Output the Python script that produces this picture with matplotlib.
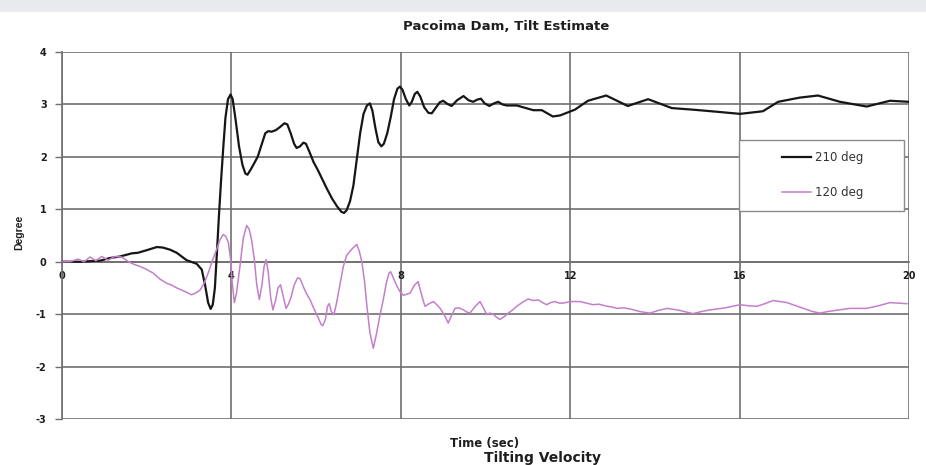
import matplotlib
matplotlib.use("Agg")
import matplotlib.pyplot as plt
from matplotlib.patches import Rectangle

plt.rcParams["axes.unicode_minus"] = False

# Tilt estimate, 210 deg component
t_210 = [0.00, 0.43, 0.90, 1.13, 1.37, 1.65, 1.79, 1.96, 2.24, 2.38, 2.55, 2.71,
         2.94, 3.18, 3.30, 3.38, 3.45, 3.51, 3.56, 3.61, 3.66, 3.71, 3.76, 3.81,
         3.86, 3.92, 3.98, 4.03, 4.10, 4.18, 4.26, 4.33, 4.38, 4.45, 4.54, 4.62,
         4.70, 4.80, 4.87, 4.95, 5.05, 5.15, 5.25, 5.32, 5.40, 5.48, 5.54, 5.62,
         5.70, 5.76, 5.84, 5.94, 6.04, 6.13, 6.25, 6.38, 6.50, 6.60, 6.66, 6.72,
         6.80, 6.88, 6.96, 7.04, 7.12, 7.20, 7.27, 7.33, 7.40, 7.47, 7.54, 7.60,
         7.68, 7.76, 7.84, 7.92, 7.98, 8.04, 8.12, 8.20, 8.26, 8.33, 8.39, 8.46,
         8.55, 8.65, 8.73, 8.82, 8.92, 9.00, 9.10, 9.20, 9.33, 9.48, 9.60, 9.71,
         9.80, 9.89, 9.98, 10.09, 10.20, 10.30, 10.40, 10.50, 10.74, 11.13, 11.33,
         11.59, 11.76, 12.11, 12.42, 12.85, 13.36, 13.84, 14.40, 14.90, 15.47,
         16.01, 16.55, 16.91, 17.42, 17.85, 18.37, 19.00, 19.55, 20.00]
deg_210 = [0.00, 0.00, 0.02, 0.07, 0.10, 0.16, 0.17, 0.21, 0.28, 0.27, 0.23, 0.17,
           0.03, -0.04, -0.15, -0.45, -0.78, -0.90, -0.82, -0.50, 0.20, 0.94, 1.60, 2.20,
           2.75, 3.10, 3.19, 3.10, 2.70, 2.20, 1.85, 1.68, 1.66, 1.75, 1.88, 2.00,
           2.20, 2.45, 2.49, 2.48, 2.51, 2.57, 2.64, 2.62, 2.45, 2.25, 2.17, 2.20,
           2.27, 2.25, 2.10, 1.90, 1.75, 1.60, 1.40, 1.20, 1.05, 0.95, 0.93, 0.98,
           1.15, 1.45, 1.95, 2.45, 2.82, 2.98, 3.02, 2.88, 2.55, 2.28, 2.20, 2.25,
           2.45, 2.75, 3.10, 3.30, 3.34, 3.28, 3.10, 2.98, 3.05, 3.20, 3.24, 3.15,
           2.95, 2.84, 2.83, 2.93, 3.04, 3.07, 3.01, 2.97, 3.08, 3.16, 3.08, 3.05,
           3.09, 3.11, 3.02, 2.97, 3.02, 3.05, 3.00, 2.98, 2.98, 2.89, 2.89,
           2.77, 2.79, 2.90, 3.07, 3.17, 2.97, 3.10, 2.93, 2.90, 2.86,
           2.82, 2.87, 3.05, 3.13, 3.17, 3.05, 2.96, 3.07, 3.05]

# Tilt estimate, 120 deg component
t_120 = [0.00, 0.19, 0.38, 0.52, 0.66, 0.80, 0.94, 1.09, 1.25, 1.41, 1.57, 1.70,
         1.84, 1.98, 2.16, 2.31, 2.47, 2.60, 2.71, 2.88, 3.06, 3.15, 3.26, 3.35,
         3.45, 3.55, 3.65, 3.73, 3.81, 3.87, 3.93, 3.98, 4.02, 4.07, 4.12, 4.20,
         4.28, 4.36, 4.42, 4.48, 4.54, 4.60, 4.66, 4.72, 4.77, 4.82, 4.87, 4.93,
         4.98, 5.04, 5.10, 5.16, 5.22, 5.29, 5.34, 5.40, 5.48, 5.56, 5.62, 5.70,
         5.78, 5.86, 5.94, 6.04, 6.12, 6.16, 6.22, 6.27, 6.31, 6.36, 6.42, 6.48,
         6.56, 6.64, 6.72, 6.80, 6.88, 6.96, 7.02, 7.08, 7.14, 7.20, 7.27, 7.35,
         7.42, 7.50, 7.58, 7.66, 7.72, 7.76, 7.82, 7.90, 7.98, 8.06, 8.14, 8.22,
         8.32, 8.41, 8.48, 8.57, 8.67, 8.77, 8.85, 8.93, 9.03, 9.12, 9.20, 9.28,
         9.38, 9.48, 9.56, 9.63, 9.75, 9.87, 9.95, 10.03, 10.10, 10.18, 10.26,
         10.34, 10.44, 10.54, 10.64, 10.74, 10.88, 11.01, 11.12, 11.25, 11.35,
         11.44, 11.54, 11.64, 11.74, 11.84, 11.94, 12.04, 12.23, 12.38, 12.54,
         12.68, 12.82, 12.96, 13.11, 13.26, 13.41, 13.64, 13.88, 14.08, 14.29,
         14.45, 14.59, 14.75, 14.90, 15.10, 15.30, 15.48, 15.66, 15.84, 16.01,
         16.21, 16.41, 16.60, 16.79, 16.95, 17.12, 17.33, 17.54, 17.72, 17.90,
         18.08, 18.25, 18.43, 18.61, 18.80, 19.00, 19.28, 19.55, 19.75, 19.95]
deg_120 = [0.00, 0.00, 0.05, 0.00, 0.09, 0.02, 0.10, 0.03, 0.10, 0.09, 0.00, -0.05,
           -0.09, -0.14, -0.22, -0.33, -0.41, -0.45, -0.50, -0.56, -0.63, -0.60, -0.54, -0.42,
           -0.22, 0.02, 0.23, 0.42, 0.52, 0.48, 0.36, 0.05, -0.40, -0.78, -0.60, -0.10,
           0.45, 0.69, 0.62, 0.40, 0.05, -0.45, -0.72, -0.45, -0.10, 0.04, -0.20, -0.70,
           -0.92, -0.75, -0.50, -0.44, -0.65, -0.89, -0.82, -0.70, -0.45, -0.31, -0.32, -0.48,
           -0.62, -0.73, -0.88, -1.05, -1.20, -1.22, -1.10, -0.85, -0.80, -0.95, -1.01, -0.80,
           -0.45, -0.10, 0.12, 0.20, 0.27, 0.33, 0.20, 0.00, -0.35, -0.85, -1.35, -1.65,
           -1.40, -1.05, -0.75, -0.40, -0.22, -0.19, -0.30, -0.45, -0.57, -0.64, -0.62, -0.60,
           -0.45, -0.38, -0.60, -0.85, -0.80, -0.76, -0.82, -0.89, -1.02, -1.17, -1.02, -0.89,
           -0.88, -0.92, -0.96, -0.98, -0.86, -0.76, -0.88, -1.01, -0.98, -1.00, -1.06,
           -1.10, -1.05, -0.98, -0.92, -0.85, -0.77, -0.71, -0.74, -0.73, -0.78,
           -0.82, -0.78, -0.76, -0.79, -0.79, -0.77, -0.76, -0.76, -0.79, -0.82,
           -0.81, -0.84, -0.86, -0.89, -0.88, -0.90, -0.95, -0.98, -0.93, -0.89,
           -0.91, -0.93, -0.96, -0.99, -0.95, -0.92, -0.90, -0.88, -0.85, -0.82,
           -0.84, -0.85, -0.80, -0.74, -0.76, -0.78, -0.84, -0.90, -0.95, -0.98,
           -0.95, -0.93, -0.91, -0.89, -0.89, -0.89, -0.84, -0.78, -0.79, -0.80]

series_labels = ["210 deg", "120 deg"]
x_ticks = [0, 4, 8, 12, 16, 20]
y_ticks = [-3, -2, -1, 0, 1, 2, 3, 4]

GRID = "#707070"
TXT = "#1e1e1e"
BOLD = ["DejaVu Sans"]

fig = plt.figure(figsize=(9.26, 4.65), dpi=100)
fig.patch.set_facecolor("white")

# light banner strip along the top edge
fig.add_artist(Rectangle((0, 1 - 12 / 465), 1, 12 / 465, transform=fig.transFigure,
                         facecolor="#e8eaee", edgecolor="none", zorder=0))

ax = fig.add_axes([62 / 926, 1 - 419 / 465, 847 / 926, 367 / 465])
ax.set_xlim(0, 20)
ax.set_ylim(-3, 4)

ln1, = ax.plot(t_210, deg_210, color="#161616", lw=1.6, zorder=3,
               solid_joinstyle="round")
ln2, = ax.plot(t_120, deg_120, color="#c47fcb", lw=1.1, zorder=3,
               solid_joinstyle="round")

ax.set_xticks(x_ticks)
ax.set_yticks(y_ticks)
ax.grid(True, color=GRID, lw=1.2)
ax.set_axisbelow(True)

for side in ("top", "right"):
    ax.spines[side].set_visible(False)
ax.spines["left"].set_color(GRID)
ax.spines["left"].set_linewidth(1.2)
ax.spines["bottom"].set_position(("data", 0))
ax.spines["bottom"].set_color(GRID)
ax.spines["bottom"].set_linewidth(1.2)

ax.tick_params(axis="x", length=0, pad=7, labelsize=7, labelcolor=TXT)
ax.tick_params(axis="y", length=5, width=1, color=GRID, pad=6, labelsize=7,
               labelcolor=TXT)
for lab in ax.get_xticklabels() + ax.get_yticklabels():
    lab.set_fontweight("bold")
    lab.set_family(BOLD)

ax.set_xlabel("Time (sec)", fontsize=8.5, fontweight="bold", family=BOLD, color=TXT)
ax.xaxis.set_label_coords(0.4994, -0.049)
ax.set_ylabel("Degree", fontsize=7.5, fontweight="bold", color=TXT,
              family=["Liberation Sans Narrow", "Liberation Sans", "DejaVu Sans"])
ax.yaxis.set_label_coords(-(62 - 24) / 847, (419 - 232) / 367)

fig.text(506 / 926, 1 - 27 / 465, "Pacoima Dam, Tilt Estimate", ha="center",
         va="center", fontsize=9.5, fontweight="bold", family=BOLD, color=TXT)
fig.text(542 / 926, 1 - 458 / 465, "Tilting Velocity", ha="center", va="center",
         fontsize=10, fontweight="bold", family=BOLD, color=TXT)

# legend frame plus entries
ax.add_patch(Rectangle(((739 - 62) / 847, (419 - 210.5) / 367), 165 / 847, 70.5 / 367,
                       transform=ax.transAxes, facecolor="white",
                       edgecolor="#8a8a8a", lw=1.0, zorder=4))
leg = ax.legend([ln1, ln2], series_labels, loc="center left", frameon=False,
                bbox_to_anchor=((781.7 - 62) / 847, (419 - 175.2) / 367),
                borderaxespad=0, borderpad=0, handlelength=2.45,
                handletextpad=0.4, labelspacing=1.9,
                prop={"size": 8.5, "family": "DejaVu Sans"})
leg.set_zorder(5)
for txt in leg.get_texts():
    txt.set_color("#333333")

fig.savefig("out.png", dpi=100)
